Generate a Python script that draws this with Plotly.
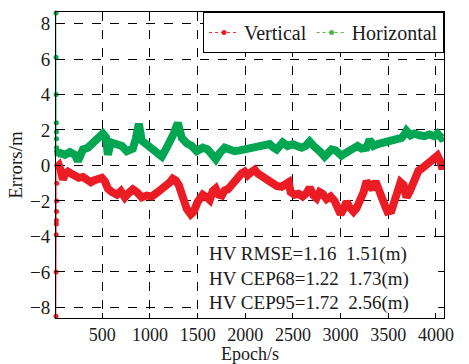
import plotly.graph_objects as go

# ---- data ----
start_x = [14, 15, 16, 17, 18, 19, 20, 21, 22]
start_vert = [-8.5, -6.0, -3.9, -3.3, -3.1, -2.6, -2.0, -1.0, 0.0]
start_horiz = [8.6, 6.1, 4.0, 2.4, 1.9, 1.5, 1.0, 0.8, 0.65]

horiz_x = [25, 55, 107, 160, 212, 244, 265, 296, 348, 401, 443, 474, 506, 537, 558, 590,
           652, 705, 757, 820, 851, 883, 914, 956, 998, 1050, 1124, 1166, 1208, 1250, 1292,
           1334, 1386, 1438, 1491, 1554, 1606, 1648, 1690, 1732, 1784, 1837, 1889, 1941, 1994,
           2046, 2109, 2151, 2203, 2256, 2298, 2329, 2392, 2444, 2497, 2549, 2591, 2633, 2675,
           2717, 2748, 2790, 2832, 2874, 2906, 2947, 3010, 3052, 3094, 3136, 3178, 3220, 3272,
           3304, 3346, 3388, 3440, 3492, 3534, 3566, 3608, 3639, 3670, 3691, 3733, 3775, 3827,
           3880, 3932, 3984, 4016, 4058, 4080]
horiz_y = [0.65, 0.7, 0.6, 0.75, 0.6, 0.25, 0.5, 0.9, 1.0, 1.25, 1.45, 1.6, 1.8, 1.6, 0.6, 1.3,
           1.25, 1.1, 0.8, 0.95, 1.5, 2.35, 1.4, 1.2, 1.0, 0.8, 0.5, 0.9, 1.3, 1.8, 2.4,
           1.55, 1.25, 1.1, 0.8, 1.0, 0.9, 0.7, 0.35, 0.7, 1.0, 0.9, 0.8, 0.85, 0.9,
           1.0, 1.0, 1.1, 1.05, 1.2, 1.0, 0.9, 1.3, 1.1, 1.2, 1.1, 1.0, 1.1, 1.35,
           1.1, 1.0, 0.75, 0.5, 0.8, 0.9, 0.85, 0.55, 0.7, 0.8, 1.0, 1.1, 0.95, 1.0,
           1.45, 1.1, 1.2, 1.25, 1.3, 1.4, 1.45, 1.5, 1.55, 1.75, 1.95, 1.7, 1.8, 1.7,
           1.65, 1.75, 1.65, 1.8, 1.55, 1.6]

vert_x = [25, 45, 65, 86, 107, 139, 170, 212, 254, 296, 338, 380, 411, 453, 495, 527, 558,
          600, 652, 694, 736, 778, 820, 862, 914, 967, 1019, 1082, 1124, 1166, 1208, 1239,
          1271, 1302, 1344, 1386, 1428, 1459, 1501, 1554, 1596, 1627, 1658, 1690, 1721, 1753,
          1784, 1816, 1858, 1889, 1931, 1962, 1994, 2025, 2057, 2099, 2130, 2172, 2224, 2277,
          2329, 2382, 2434, 2455, 2476, 2518, 2560, 2602, 2644, 2675, 2717, 2748, 2780, 2811,
          2853, 2895, 2937, 2968, 3000, 3031, 3063, 3094, 3136, 3168, 3210, 3241, 3272, 3304,
          3335, 3367, 3398, 3429, 3461, 3492, 3534, 3566, 3597, 3629, 3660, 3691, 3723, 3754,
          3785, 3817, 3859, 3901, 3943, 3984, 4016, 4048, 4069, 4080]
vert_y = [-0.1, 0.0, -0.3, -0.8, -0.5, -0.35, -0.45, -0.55, -0.7, -0.65, -0.8, -0.95, -0.85,
          -0.8, -0.7, -0.9, -1.3, -1.5, -1.65, -1.45, -1.8, -1.55, -1.35, -1.5, -1.8, -1.7,
          -1.75, -1.5, -1.35, -1.2, -0.95, -0.75, -0.85, -1.1, -1.85, -2.45, -2.75, -2.6,
          -2.05, -1.65, -1.8, -1.95, -1.45, -1.3, -1.65, -1.7, -1.4, -1.35, -1.1, -0.9,
          -0.55, -0.45, -0.35, -0.55, -0.4, -0.25, -0.45, -0.6, -0.9, -1.05, -1.15, -1.2,
          -1.1, -0.95, -1.5, -1.65, -1.6, -1.75, -1.55, -1.25, -1.7, -1.85, -1.5, -1.6,
          -1.9, -1.75, -2.0, -2.4, -2.75, -2.45, -2.05, -2.35, -2.6, -2.4, -2.0, -1.5,
          -0.9, -1.2, -1.35, -0.9, -1.25, -1.65, -2.2, -2.6, -2.55, -2.0, -1.3, -0.95,
          -1.1, -1.8, -1.5, -1.1, -0.6, -0.3, -0.15, 0.05, 0.1, 0.3, 0.55, 0.2, -0.2, 0.0]

x_ticks = [500, 1000, 1500, 2000, 2500, 3000, 3500, 4000]
y_ticks = [-8, -6, -4, -2, 0, 2, 4, 6, 8]
stats_lines = ["HV RMSE=1.16\u00a0\u00a01.51(m)",
               "HV CEP68=1.22\u00a0\u00a01.73(m)",
               "HV CEP95=1.72\u00a0\u00a02.56(m)"]

RED = "#ec1c24"
GREEN = "#00a651"
FONT = "Liberation Serif, Times New Roman, serif"
TXT = "#1a1a1a"
FS = 19

fig = go.Figure()
# start-up outliers
fig.add_trace(go.Scatter(x=start_x, y=start_vert, mode="lines+markers", showlegend=False,
                         cliponaxis=False,
                         line=dict(color="#f47a7f", width=1), marker=dict(color=RED, size=5)))
fig.add_trace(go.Scatter(x=start_x, y=start_horiz, mode="lines+markers", showlegend=False,
                         cliponaxis=False,
                         line=dict(color="#7fd39f", width=1), marker=dict(color=GREEN, size=5)))
# main bands
fig.add_trace(go.Scatter(x=vert_x, y=vert_y, mode="lines", showlegend=False,
                         line=dict(color=RED, width=8)))
fig.add_trace(go.Scatter(x=horiz_x, y=horiz_y, mode="lines", showlegend=False,
                         line=dict(color=GREEN, width=8)))
# legend entries
fig.add_trace(go.Scatter(x=[None], y=[None], mode="lines+markers", name="Vertical",
                         line=dict(color="#ff3030", width=1, dash="dot"),
                         marker=dict(color=RED, size=5)))
fig.add_trace(go.Scatter(x=[None], y=[None], mode="lines+markers", name="Horizontal",
                         line=dict(color="#55bb33", width=1, dash="dot"),
                         marker=dict(color="#4cb848", size=5)))

axis_common = dict(showline=True, linecolor="black", linewidth=1, mirror="allticks",
                   ticks="inside", ticklen=5, tickcolor="black", showgrid=True,
                   gridwidth=1, zeroline=False, tickangle=0, automargin=False)

fig.update_xaxes(range=[14, 4085], tickvals=x_ticks, ticktext=[str(v) for v in x_ticks],
                 gridcolor="black", griddash="dash", ticklabelstandoff=0,
                 tickfont=dict(family=FONT, size=18, color=TXT), **axis_common)
fig.update_yaxes(range=[-8.6, 8.65], tickvals=y_ticks,
                 ticktext=[("\u2212" + str(-v)) if v < 0 else str(v) for v in y_ticks],
                 gridcolor="black", griddash="dash", ticklabelstandoff=1,
                 tickfont=dict(family=FONT, size=FS, color=TXT), **axis_common)
fig.update_xaxes(title_text="Epoch/s", title_font=dict(family=FONT, size=18, color=TXT),
                 title_standoff=4)
fig.update_yaxes(title_text="Errors/m", title_font=dict(family=FONT, size=FS, color=TXT),
                 title_standoff=2)

# white box behind the statistics text
fig.add_shape(type="rect", xref="paper", yref="paper", x0=0.371, x1=0.985, y0=0.02, y1=0.248,
              fillcolor="white", line=dict(width=0), layer="above")
fig.add_annotation(xref="paper", yref="paper", x=0.388, y=0.13, xanchor="left",
                   yanchor="middle", align="left", showarrow=False,
                   text="<br>".join(stats_lines),
                   font=dict(family=FONT, size=FS, color=TXT))

fig.update_layout(width=469, height=364, margin=dict(l=56, r=25, t=12, b=46),
                  plot_bgcolor="white", paper_bgcolor="white",
                  legend=dict(orientation="h", x=1, y=1, xanchor="right", yanchor="top",
                              bgcolor="white", bordercolor="black", borderwidth=1,
                              font=dict(family=FONT, size=FS + 1, color=TXT),
                              itemwidth=30, tracegroupgap=0))

fig.write_html("out.html")
